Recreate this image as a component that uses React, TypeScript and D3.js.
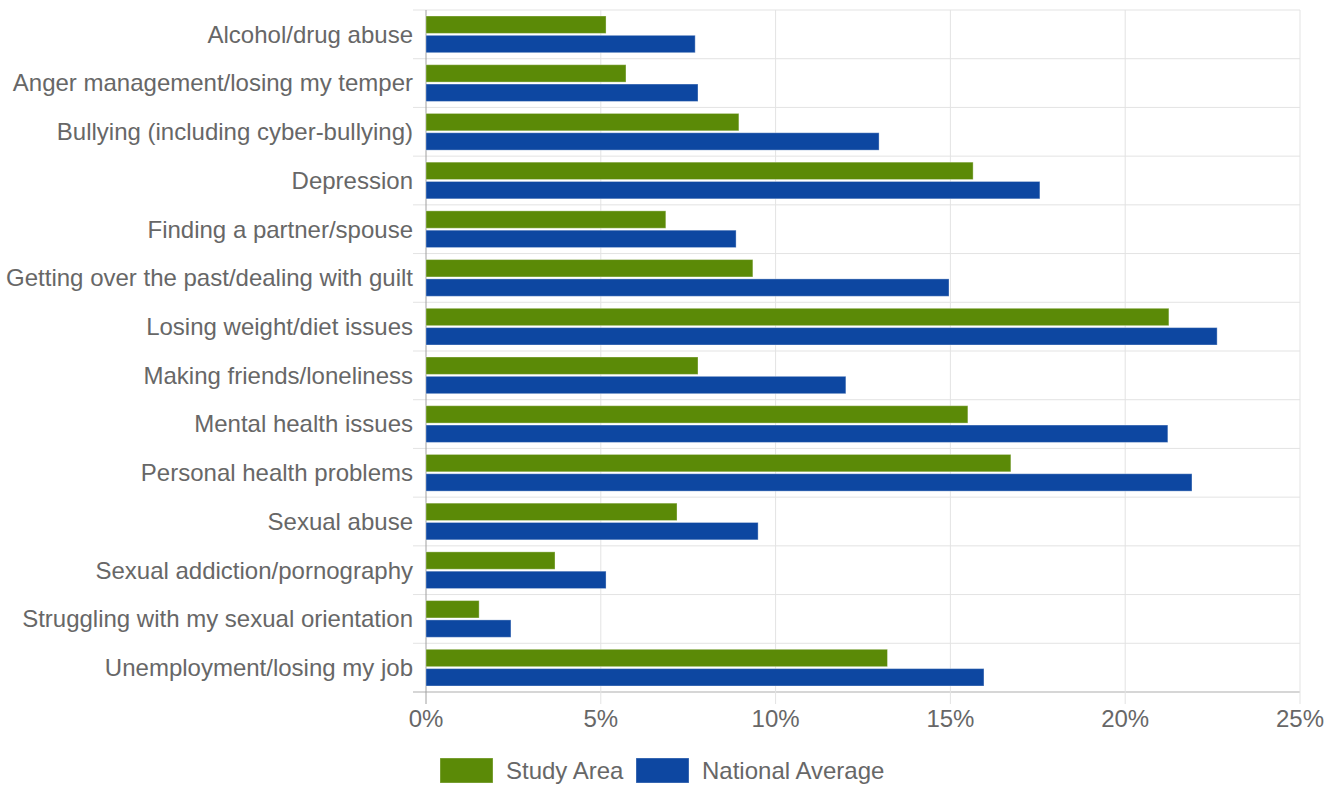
import React from "react";
import * as d3 from "d3";

const categories = [
  "Alcohol/drug abuse",
  "Anger management/losing my temper",
  "Bullying (including cyber-bullying)",
  "Depression",
  "Finding a partner/spouse",
  "Getting over the past/dealing with guilt",
  "Losing weight/diet issues",
  "Making friends/loneliness",
  "Mental health issues",
  "Personal health problems",
  "Sexual abuse",
  "Sexual addiction/pornography",
  "Struggling with my sexual orientation",
  "Unemployment/losing my job",
];
const studyArea = [5.15, 5.72, 8.95, 15.65, 6.86, 9.35, 21.25, 7.78, 15.5, 16.73, 7.18, 3.69, 1.52, 13.2];
const nationalAverage = [7.7, 7.78, 12.96, 17.56, 8.87, 14.96, 22.63, 12.01, 21.22, 21.91, 9.5, 5.15, 2.43, 15.96];
const xTicks = [0, 5, 10, 15, 20, 25];
const seriesNames = ["Study Area", "National Average"];
const seriesColors = ["#5b8a07", "#0d47a1"];

export default function App() {
  const W = 1338, H = 785;
  const left = 426, right = 1300, top = 10, bottom = 692;
  const x = d3.scaleLinear().domain([0, 25]).range([left, right]);
  const y = d3.scaleBand().domain(categories).range([top, bottom]);
  const rowH = y.bandwidth();
  const sub = d3.scaleBand().domain(seriesNames).range([6, rowH - 6]).paddingInner(0.1);
  const font = "'Liberation Sans', Arial, sans-serif";
  const series = [studyArea, nationalAverage];
  const textColor = "#676767";
  return (
    <svg width={W} height={H} style={{ position: "absolute", left: 0, top: 0 }} fontFamily={font}>
      <rect width={W} height={H} fill="#fff" />
      {/* horizontal gridlines */}
      {categories.map((c, i) => (
        <line key={"h" + i} x1={413} x2={right} y1={y(c)!} y2={y(c)!} stroke="#e3e3e3" strokeWidth={1} />
      ))}
      <line x1={413} x2={right} y1={bottom} y2={bottom} stroke="#d6d6d6" strokeWidth={2} />
      {/* vertical gridlines */}
      {xTicks.map((t) => (
        <line key={"v" + t} x1={x(t)} x2={x(t)} y1={top} y2={704} stroke={t === 0 ? "#a0a0a0" : "#e3e3e3"} strokeWidth={1} />
      ))}
      {/* bars */}
      {categories.map((c, i) =>
        series.map((s, j) => (
          <rect
            key={c + j}
            x={x(0)}
            y={y(c)! + sub(seriesNames[j])!}
            width={x(s[i]) - x(0)}
            height={sub.bandwidth()}
            fill={seriesColors[j]}
            stroke="rgba(255,255,255,0.35)"
            strokeWidth={1}
          />
        ))
      )}
      {/* category labels */}
      {categories.map((c) => (
        <text key={"l" + c} x={413} y={y(c)! + rowH / 2} dy="0.35em" textAnchor="end" fontSize={24} fill={textColor}>
          {c}
        </text>
      ))}
      {/* x tick labels */}
      {xTicks.map((t) => (
        <text key={"t" + t} x={x(t)} y={727} textAnchor="middle" fontSize={24} fill={textColor}>
          {t + "%"}
        </text>
      ))}
      {/* legend */}
      {seriesNames.map((n, j) => {
        const lx = j === 0 ? 440 : 636;
        return (
          <g key={n}>
            <rect x={lx} y={758} width={53} height={25} fill={seriesColors[j]} stroke="rgba(255,255,255,0.35)" />
            <text x={lx + 66} y={770.5} dy="0.35em" fontSize={24} fill={textColor}>
              {n}
            </text>
          </g>
        );
      })}
    </svg>
  );
}
